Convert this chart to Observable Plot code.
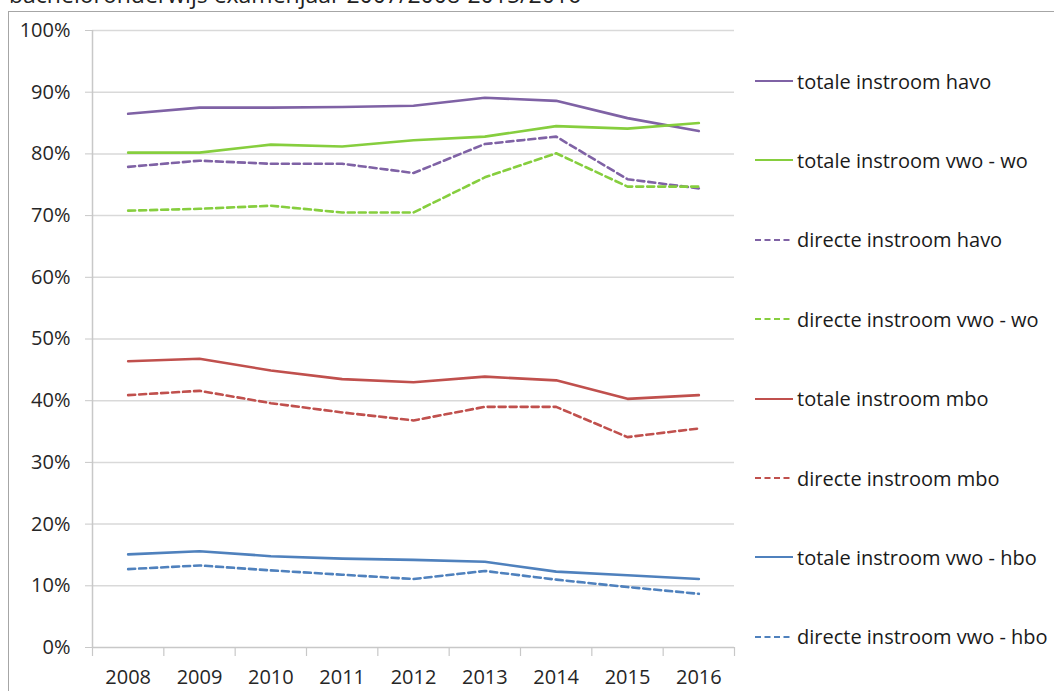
<!DOCTYPE html>
<html><head><meta charset="utf-8">
<script src="https://cdn.jsdelivr.net/npm/d3@7"></script>
<script src="https://cdn.jsdelivr.net/npm/@observablehq/plot@0.6"></script>
<style>
body{margin:0;background:#fff;font-family:"Open Sans",sans-serif;overflow:hidden;}
#wrap{position:relative;width:1054px;height:691px;overflow:hidden;}
#title{position:absolute;left:9px;top:-17px;font-size:23px;line-height:23px;color:#222;white-space:nowrap;}
#frame{position:absolute;left:8px;top:11px;width:1200px;height:800px;border:1px solid #a6a6a6;background:#fff;}
#chart{position:absolute;left:0;top:0;}
#legend{position:absolute;left:755px;top:0;width:299px;height:691px;}
.item{position:absolute;left:0;height:24px;display:flex;align-items:center;font-size:20px;white-space:nowrap;color:#1a1a1a;}
.item svg{margin-right:4px;}
</style></head>
<body><div id="wrap"><div id="title">bacheloronderwijs examenjaar 2007/2008-2015/2016</div><div id="frame"></div><div id="chart"></div><div id="legend"></div></div>
<script>
const years = [2008, 2009, 2010, 2011, 2012, 2013, 2014, 2015, 2016];
const yTicks = [0, 0.1, 0.2, 0.3, 0.4, 0.5, 0.6, 0.7, 0.8, 0.9, 1.0];

const totaleHavo      = [86.5, 87.5, 87.5, 87.6, 87.8, 89.1, 88.6, 85.8, 83.7];
const totaleVwoWo     = [80.2, 80.2, 81.5, 81.2, 82.2, 82.8, 84.5, 84.1, 85.0];
const directeHavo     = [77.9, 78.9, 78.4, 78.4, 76.9, 81.6, 82.8, 75.9, 74.4];
const directeVwoWo    = [70.8, 71.1, 71.6, 70.5, 70.5, 76.2, 80.1, 74.7, 74.7];
const totaleMbo       = [46.4, 46.8, 44.9, 43.5, 43.0, 43.9, 43.3, 40.3, 40.9];
const directeMbo      = [40.9, 41.6, 39.6, 38.1, 36.8, 39.0, 39.0, 34.1, 35.5];
const totaleVwoHbo    = [15.1, 15.6, 14.8, 14.4, 14.2, 13.9, 12.3, 11.7, 11.1];
const directeVwoHbo   = [12.7, 13.3, 12.5, 11.8, 11.1, 12.4, 11.0,  9.8,  8.7];

const seriesNames = ["totale instroom havo", "totale instroom vwo - wo", "directe instroom havo", "directe instroom vwo - wo",
  "totale instroom mbo", "directe instroom mbo", "totale instroom vwo - hbo", "directe instroom vwo - hbo"];
const seriesValues = [totaleHavo, totaleVwoWo, directeHavo, directeVwoWo, totaleMbo, directeMbo, totaleVwoHbo, directeVwoHbo];
const seriesColors = ["#7F62A5", "#86CE3E", "#7F62A5", "#86CE3E", "#C0504D", "#C0504D", "#4F81BD", "#4F81BD"];
const seriesDashed = [false, false, true, true, false, true, false, true];

const data = seriesNames.flatMap((name, i) => years.map((year, j) => ({series: name, year, value: seriesValues[i][j] / 100})));
const xEdges = [...years.map(y => y - 0.5), years[years.length - 1] + 0.5];

const chart = Plot.plot({
  width: 1054, height: 691,
  marginLeft: 92, marginRight: 320, marginTop: 30, marginBottom: 44,
  style: {fontFamily: "Open Sans", fontSize: "20px", color: "#262626", background: "transparent"},
  x: {type: "linear", domain: [2007.5, 2016.5], label: null},
  y: {domain: [0, 1], label: null},
  marks: [
    Plot.ruleY(yTicks.slice(1), {stroke: "#d9d9d9", strokeWidth: 1.5}),
    Plot.axisY({ticks: yTicks, tickFormat: d3.format(".0%"), tickSize: 7, tickPadding: 15, stroke: "#c8c8c8", fill: "#262626", label: null}),
    Plot.ruleX([2007.5], {stroke: "#c8c8c8", strokeWidth: 1.5}),
    Plot.ruleY([0], {stroke: "#c8c8c8", strokeWidth: 1.5}),
    Plot.ruleX(xEdges, {y1: 0, y2: 0, insetBottom: -9, stroke: "#c8c8c8", strokeWidth: 1.2}),
    Plot.axisX({ticks: years, tickFormat: d => String(d), tickSize: 0, tickPadding: 22, fill: "#262626", label: null}),
    ...seriesNames.map((name, i) => Plot.line(data.filter(d => d.series === name), {
      x: "year", y: "value", stroke: seriesColors[i], strokeWidth: 2.6,
      strokeDasharray: seriesDashed[i] ? "7,4" : null
    }))
  ]
});
document.getElementById("chart").appendChild(chart);

const legend = document.getElementById("legend");
seriesNames.forEach((name, i) => {
  const item = document.createElement("div");
  item.className = "item";
  item.style.top = (81 + i * 79.4 - 12) + "px";
  item.innerHTML = `<svg width="38" height="4"><line x1="0" x2="38" y1="2" y2="2" stroke="${seriesColors[i]}" stroke-width="2" ${seriesDashed[i] ? 'stroke-dasharray="6,3.5"' : ''}/></svg><span>${name}</span>`;
  legend.appendChild(item);
});
</script>
</body></html>
